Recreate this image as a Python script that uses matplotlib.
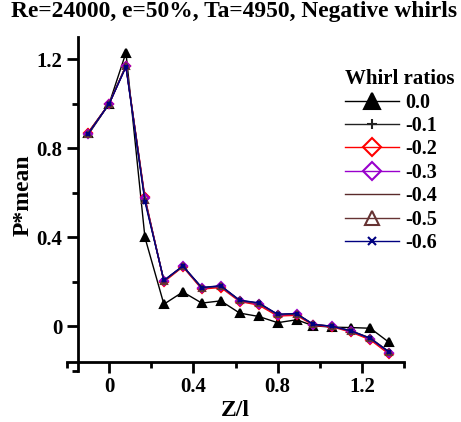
import numpy as np
import matplotlib
matplotlib.use("Agg")
import matplotlib.pyplot as plt

# data
z_l = [-0.1, 0.0, 0.08, 0.17, 0.26, 0.35, 0.44, 0.53, 0.62,
       0.71, 0.80, 0.89, 0.97, 1.06, 1.15, 1.24, 1.33]

p_00 = [0.87, 1.00, 1.23, 0.40, 0.100, 0.155, 0.105, 0.115, 0.060,
        0.045, 0.017, 0.030, 0.003, -0.003, -0.005, -0.008, -0.072]
p_01 = [0.860, 1.00, 1.17, 0.570, 0.205, 0.270, 0.172, 0.180, 0.115,
        0.103, 0.052, 0.055, 0.007, 0.000, -0.022, -0.055, -0.118]
p_02 = [0.870, 1.00, 1.17, 0.580, 0.200, 0.268, 0.168, 0.175, 0.112,
        0.096, 0.047, 0.050, 0.005, -0.002, -0.026, -0.060, -0.125]
p_03 = [0.865, 1.00, 1.17, 0.575, 0.205, 0.270, 0.172, 0.180, 0.115,
        0.102, 0.052, 0.055, 0.008, 0.000, -0.022, -0.055, -0.118]
p_04 = [0.865, 1.00, 1.17, 0.570, 0.205, 0.270, 0.173, 0.181, 0.116,
        0.104, 0.053, 0.056, 0.008, 0.001, -0.021, -0.054, -0.116]
p_05 = [0.865, 1.00, 1.17, 0.570, 0.206, 0.271, 0.174, 0.182, 0.117,
        0.105, 0.054, 0.057, 0.009, 0.001, -0.020, -0.052, -0.114]
p_06 = [0.865, 1.00, 1.165, 0.560, 0.207, 0.272, 0.175, 0.183, 0.118,
        0.106, 0.055, 0.058, 0.009, 0.001, -0.020, -0.053, -0.115]

labels = ["0.0", "-0.1", "-0.2", "-0.3", "-0.4", "-0.5", "-0.6"]
series = [p_00, p_01, p_02, p_03, p_04, p_05, p_06]

# style per series: colour, marker, filled, size
styles = [("black",   "^", True,  6),
          ("#222222", "+", True,  3.5),
          ("#FF0000", "D", False, 4.5),
          ("#9900CC", "D", False, 4.5),
          ("#5A2A2A", "",  False, 4),
          ("#663333", "^", False, 5),
          ("#000080", "x", True,  3)]

plt.rcParams['font.family'] = ['Liberation Serif', 'DejaVu Serif']
plt.rcParams['font.weight'] = 'bold'

fig = plt.figure(figsize=(4.61, 4.22), dpi=100)
ax = fig.add_axes([67/461, 1 - 371/422, 337/461, 334/422])

for y, lab, (col, mk, filled, ms) in zip(series, labels, styles):
    ax.plot(z_l, y, color=col, lw=1.0, marker=mk if mk else None, ms=ms,
            mfc=col if filled else "none", mec=col, mew=1.5,
            label=lab)

ax.set_xlim(-0.2, 1.4)
ax.set_ylim(-0.2, 1.3)

# Origin style detached axes
ax.spines['top'].set_visible(False)
ax.spines['right'].set_visible(False)
ax.spines['left'].set_position(('data', -0.15))
ax.spines['bottom'].set_position(('data', -0.16))
for s in ['left', 'bottom']:
    ax.spines[s].set_linewidth(2)

ax.set_xticks([0, 0.4, 0.8, 1.2])
ax.set_xticklabels(["0", "0.4", "0.8", "1.2"])
ax.set_xticks([-0.2, 0.2, 0.6, 1.0, 1.4], minor=True)
ax.set_yticks([0, 0.4, 0.8, 1.2])
ax.set_yticklabels(["0", "0.4", "0.8", "1.2"])
ax.set_yticks([-0.2, 0.2, 0.6, 1.0], minor=True)
ax.tick_params(which='major', direction='out', length=8, width=2, labelsize=15, pad=3)
ax.tick_params(which='minor', direction='out', length=4, width=2)

ax.set_xlabel("Z/l", fontsize=17, fontweight='bold', labelpad=2)
ax.set_ylabel("P*mean", fontsize=17, fontweight='bold')
ax.yaxis.set_label_coords(-0.098, 0.527)

fig.suptitle("Re=24000, e=50%, Ta=4950, Negative whirls", fontsize=16.9,
             fontweight='bold', x=0.508, y=0.998)

leg = ax.legend(loc='upper left', bbox_to_anchor=(0.726, 0.86),
                bbox_transform=fig.transFigure, frameon=False,
                title="Whirl ratios", fontsize=14.5, title_fontsize=15,
                handlelength=2.7, labelspacing=0.17, borderpad=0,
                handletextpad=0.3, markerscale=2.0, alignment='left')
leg.get_title().set_fontweight('bold')

fig.savefig("out.png", dpi=100)
